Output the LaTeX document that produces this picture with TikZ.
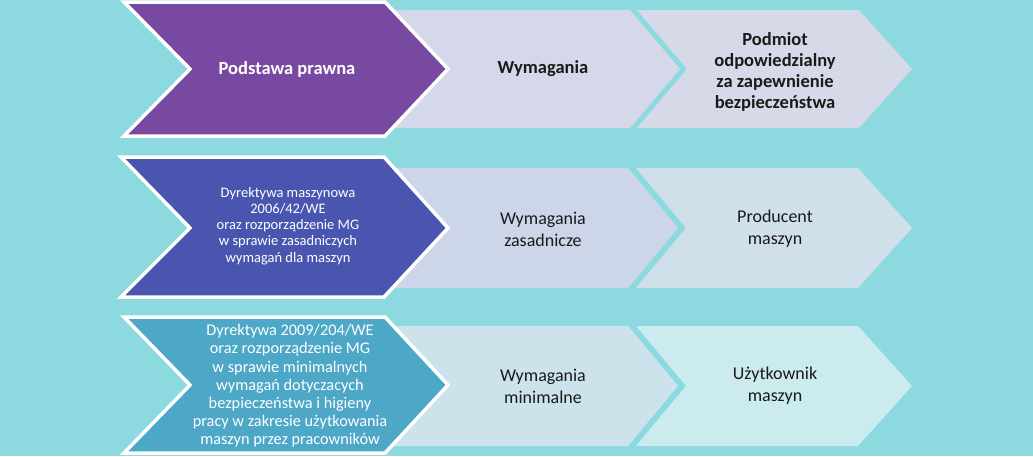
\documentclass[tikz,border=0pt]{standalone}
\usepackage{fontspec}
\setmainfont{Carlito}
\definecolor{bg}{HTML}{8DD9E0}
\definecolor{dpurple}{HTML}{7849A0}
\definecolor{dblue}{HTML}{4A55B0}
\definecolor{dteal}{HTML}{4DA7C6}
\definecolor{la}{HTML}{D5D8E8}
\definecolor{lb}{HTML}{D6DAE8}
\definecolor{lc}{HTML}{CDD6E8}
\definecolor{ld}{HTML}{CFE0EA}
\definecolor{le}{HTML}{CCE3EC}
\definecolor{lf}{HTML}{CCEBEE}
\definecolor{ink}{HTML}{1A1A1A}
\tikzset{
  darkchev/.style={draw=white, line width=3.5pt, line join=miter},
  headtxt/.style={align=center, font=\bfseries\fontsize{18.5}{21}\selectfont, text=ink, inner sep=0pt},
  bodytxt/.style={align=center, font=\fontsize{18}{22}\selectfont, text=ink, inner sep=0pt},
  lawtxt/.style={align=center, font=\fontsize{14.5}{16.2}\selectfont, text=white, inner sep=0pt},
  lawtxtbig/.style={align=center, font=\fontsize{16.3}{18.2}\selectfont, text=white, inner sep=0pt},
}
\begin{document}
\begin{tikzpicture}[x=1pt,y=-1pt]
\fill[bg] (0,0) rectangle (1033,456);
\useasboundingbox (0,0) rectangle (1033,456);

% Row 1 light chevrons
\fill[lb] (637,10) -- (859,10) -- (912,69) -- (859,128) -- (637,128) -- (687,69) -- cycle;
\fill[la] (370,10) -- (630,10) -- (680,69) -- (630,128) -- (370,128) -- cycle;
% Row 2 light chevrons
\fill[ld] (636,168) -- (858,168) -- (912,228) -- (858,288) -- (636,288) -- (686,228) -- cycle;
\fill[lc] (370,168) -- (628,168) -- (678,228) -- (628,288) -- (370,288) -- cycle;
% Row 3 light chevrons
\fill[lf] (636,326) -- (858,326) -- (912,386) -- (858,446) -- (636,446) -- (686,386) -- cycle;
\fill[le] (370,326) -- (628,326) -- (678,386) -- (628,446) -- (370,446) -- cycle;

% Dark chevrons
\filldraw[darkchev, fill=dpurple] (124,2) -- (385,2) -- (448,69) -- (385,136) -- (124,136) -- (190,69) -- cycle;
\filldraw[darkchev, fill=dblue] (121,157) -- (384,157) -- (448,228) -- (384,297) -- (121,297) -- (190,228) -- cycle;
\filldraw[darkchev, fill=dteal] (124,317) -- (385,317) -- (448,385) -- (385,453) -- (124,453) -- (190,385) -- cycle;

% Texts
\node[headtxt, text=white] (t11) at (287,69) {Podstawa prawna};
\node[headtxt] (t12) at (543,69) {Wymagania};
\node[headtxt, font=\bfseries\fontsize{18.5}{21}\selectfont] (t13) at (775,72) {Podmiot\\odpowiedzialny\\za zapewnienie\\bezpieczeństwa};

\node[lawtxt] (t21) at (288,226) {Dyrektywa maszynowa\\2006/42/WE\\oraz rozporządzenie MG\\w sprawie zasadniczych\\wymagań dla maszyn};
\node[bodytxt] (t22) at (543,229) {Wymagania\\zasadnicze};
\node[bodytxt] (t23) at (775,229) {Producent\\maszyn};

\node[lawtxtbig] (t31) at (290,386) {Dyrektywa 2009/204/WE\\oraz rozporządzenie MG\\w sprawie minimalnych\\wymagań dotyczacych\\bezpieczeństwa i higieny\\pracy w zakresie użytkowania\\maszyn przez pracowników};
\node[bodytxt] (t32) at (543,386) {Wymagania\\minimalne};
\node[bodytxt] (t33) at (775,386) {Użytkownik\\maszyn};
\end{tikzpicture}
\end{document}
